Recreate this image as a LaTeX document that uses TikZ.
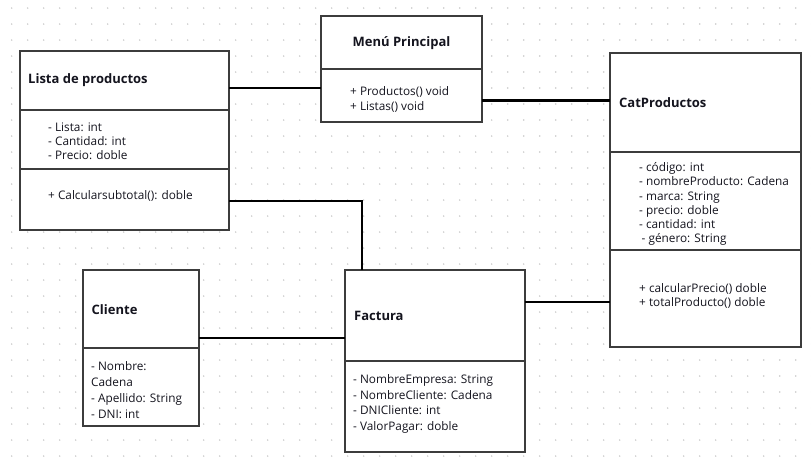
\documentclass[tikz,border=0pt]{standalone}
\usepackage{fontspec}
\setmainfont{Open Sans}
\usepackage{tikz}
\usetikzlibrary{positioning}
\definecolor{boxline}{RGB}{60,60,60}
\definecolor{griddot}{RGB}{200,200,200}
\definecolor{umltext}{RGB}{20,20,30}

\tikzset{
  classbox/.style={draw=boxline, line width=1.6pt, fill=white, inner sep=0pt, outer sep=0pt, anchor=north west},
  divider/.style={draw=boxline, line width=1.2pt},
  classname/.style={font=\fontsize{13}{15}\selectfont\bfseries, text=umltext, inner sep=0pt, anchor=west},
  members/.style={font=\fontsize{11.8}{#1}\selectfont, text=umltext, inner sep=0pt, anchor=base west, align=left},
  members/.default=14,
  assoc/.style={draw=black, line width=2.2pt},
}

\begin{document}
\begin{tikzpicture}[x=1pt,y=-1pt]
    \useasboundingbox (0,0) rectangle (811,467);
    \fill[white] (0,0) rectangle (811,467);

    % dotted grid
    \foreach \gx in {0,...,50}
      \foreach \gy in {0,...,28}
        \fill[griddot] (11.7+16*\gx, 8+16*\gy) circle (0.8);

    % class boxes
    \node[classbox, minimum width=209pt, minimum height=179pt] (lista) at (20,51) {};
    \node[classbox, minimum width=161pt, minimum height=106pt] (menu) at (321,16) {};
    \node[classbox, minimum width=191pt, minimum height=294pt] (cat) at (610,53) {};
    \node[classbox, minimum width=116pt, minimum height=156pt] (cliente) at (83,270) {};
    \node[classbox, minimum width=180pt, minimum height=182pt] (factura) at (345,270) {};

    % compartments
    \draw[divider] (lista.west |- 0,110) -- (lista.east |- 0,110);
    \draw[divider] (lista.west |- 0,169) -- (lista.east |- 0,169);
    \draw[divider] (menu.west |- 0,69) -- (menu.east |- 0,69);
    \draw[divider] (cat.west |- 0,152) -- (cat.east |- 0,152);
    \draw[divider] (cat.west |- 0,250) -- (cat.east |- 0,250);
    \draw[divider] (cliente.west |- 0,348) -- (cliente.east |- 0,348);
    \draw[divider] (factura.west |- 0,361) -- (factura.east |- 0,361);

    % Lista de productos (anchor = baseline of last line)
    \node[classname] (listaName) at (28,80.5) {Lista de productos};
    \node[members] (listaAttr) at (48,159.5) {- Lista: int\\- Cantidad: int\\- Precio: doble};
    \node[members] (listaOps) at (48,199) {+ Calcularsubtotal(): doble};

    % Menu Principal
    \node[classname, anchor=center] (menuName) at (401.5,43.5) {Menú Principal};
    \node[members=15] (menuOps) at (350,110.5) {+ Productos() void\\+ Listas() void};

    % CatProductos
    \node[classname] (catName) at (619,103) {CatProductos};
    \node[members=14.2] (catAttr) at (639,242.7) {- código: int\\- nombreProducto: Cadena\\- marca: String\\- precio: doble\\- cantidad: int\\\hspace{2.5pt}- género: String};
    \node[members] (catOps) at (639,306) {+ calcularPrecio() doble\\+ totalProducto() doble};

    % Cliente
    \node[classname] (clienteName) at (91.5,309.5) {Cliente};
    \node[members=15.8] (clienteAttr) at (91,418) {- Nombre:\\Cadena\\- Apellido: String\\- DNI: int};

    % Factura
    \node[classname] (facturaName) at (354,315.5) {Factura};
    \node[members=15.7] (facturaAttr) at (353,430.4) {- NombreEmpresa: String\\- NombreCliente: Cadena\\- DNICliente: int\\- ValorPagar: doble};

    % associations
    \coordinate (rowMenu) at (0,88);
    \coordinate (rowCat) at (0,100.5);
    \coordinate (bendFac) at (362,201);
    \coordinate (rowCli) at (0,338);
    \coordinate (rowFac) at (0,302);
    \draw[assoc] (lista.east |- rowMenu) -- (menu.west |- rowMenu);
    \draw[assoc] (menu.east |- rowCat) -- (cat.west |- rowCat);
    \draw[assoc] (lista.east |- bendFac) -- (bendFac) -- (factura.north -| bendFac);
    \draw[assoc] (cliente.east |- rowCli) -- (factura.west |- rowCli);
    \draw[assoc] (factura.east |- rowFac) -- (cat.west |- rowFac);
\end{tikzpicture}
\end{document}
